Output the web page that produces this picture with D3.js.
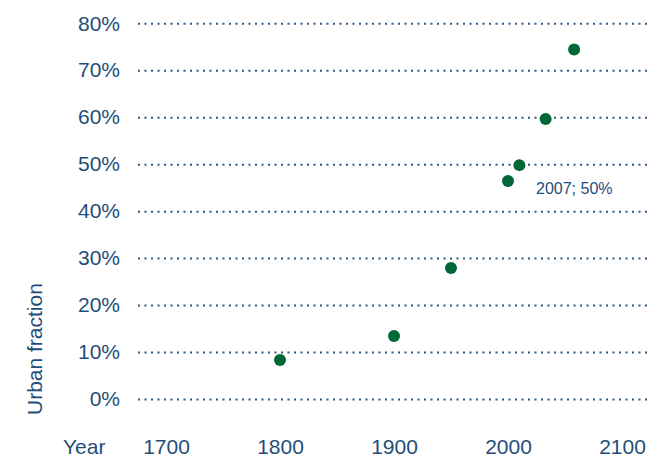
<!DOCTYPE html>
<html>
  <head>
    <meta charset="utf-8">
    <style>
      body { margin: 0; background: #fff; }
      svg text { font-family: "Liberation Sans", Arial, sans-serif; fill: #1f4e79; }
    </style>
  </head>
  <body>
    <svg width="649" height="457"></svg>
    <script src="https://d3js.org/d3.v7.min.js"></script>
    <script>
    // data
    var years = [1800, 1900, 1950, 2000, 2010, 2033, 2058];
    var urban = [0.083, 0.134, 0.279, 0.464, 0.498, 0.596, 0.744];
    var yearTicks = [1700, 1800, 1900, 2000, 2100];
    var pctTicks = [0, 0.1, 0.2, 0.3, 0.4, 0.5, 0.6, 0.7, 0.8];
    var noteText = "2007; 50%";

    var svg = d3.select("svg"),
        plotLeft = 138, plotRight = 647, plotTop = 23.3, plotBottom = 399;

    var x = d3.scaleLinear().domain([1700, 2100]).range([166, 622]);
    var y = d3.scaleLinear().domain([0, 0.8]).range([plotBottom, plotTop]);

    // y axis + dotted gridlines
    var gy = svg.append("g")
        .attr("transform", "translate(" + plotLeft + ",0)")
        .call(d3.axisLeft(y).tickValues(pctTicks)
          .tickFormat(d3.format(".0%"))
          .tickSizeInner(-(plotRight - plotLeft)).tickSizeOuter(0).tickPadding(18));
    gy.select(".domain").remove();
    gy.selectAll("line")
        .attr("stroke", "#2b5a84")
        .attr("stroke-width", 2)
        .attr("stroke-dasharray", "2,4.5");
    gy.selectAll("text").attr("font-size", 21);

    // x axis labels
    var gx = svg.append("g")
        .attr("transform", "translate(0,436)")
        .call(d3.axisBottom(x).tickValues(yearTicks).tickFormat(d3.format("d"))
          .tickSize(0).tickPadding(3));
    gx.select(".domain").remove();
    gx.selectAll("text").attr("font-size", 21);

    svg.append("text")
        .attr("x", 63).attr("y", 454)
        .attr("font-size", 21)
        .text("Year");

    svg.append("text")
        .attr("transform", "translate(42,415) rotate(-90)")
        .attr("font-size", 21)
        .text("Urban fraction");

    // points
    svg.append("g").selectAll("circle")
        .data(years)
      .enter().append("circle")
        .attr("cx", function(d) { return x(d); })
        .attr("cy", function(d, i) { return y(urban[i]); })
        .attr("r", 6)
        .attr("fill", "#006837");

    svg.append("text")
        .attr("x", 536).attr("y", 194)
        .attr("font-size", 16)
        .text(noteText);
    </script>
  </body>
</html>
